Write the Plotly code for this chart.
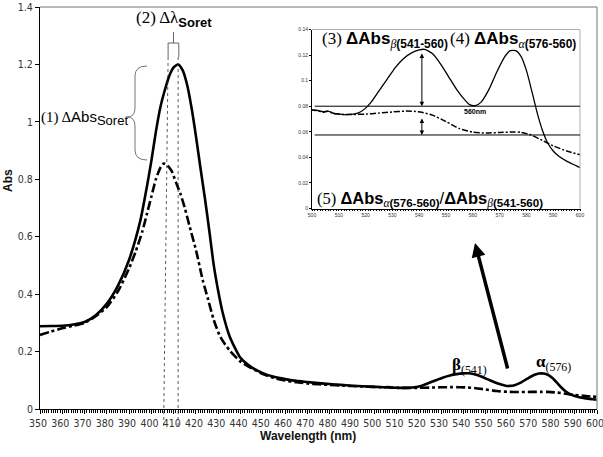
import plotly.graph_objects as go

# ---------------- data ----------------
wl_solid = [350, 355, 360, 365, 370, 375, 380, 385, 390, 395, 398, 400, 402, 404, 406, 408, 410, 412,
            414, 416, 418, 420, 422, 424, 426, 428, 430, 432, 435, 438, 440, 445, 450, 455, 460, 465,
            470, 475, 480, 485, 490, 495, 500, 502, 504, 506, 508, 510, 512, 514, 516, 518, 520, 522,
            525, 528, 531, 534, 537, 540, 542, 545, 548, 551, 554, 557, 559, 561, 563, 566, 569, 572,
            574, 576, 578, 580, 582, 584, 586, 588, 590, 592, 595, 598, 600]
abs_solid = [0.288, 0.289, 0.290, 0.294, 0.303, 0.326, 0.367, 0.43, 0.52, 0.655, 0.775, 0.865, 0.965,
             1.05, 1.11, 1.16, 1.19, 1.20, 1.18, 1.13, 1.05, 0.95, 0.84, 0.735, 0.62, 0.50, 0.41, 0.335,
             0.255, 0.205, 0.178, 0.145, 0.125, 0.112, 0.104, 0.098, 0.094, 0.090, 0.087, 0.084, 0.081,
             0.079, 0.077, 0.0768, 0.0757, 0.0762, 0.0745, 0.0738, 0.0734, 0.0736, 0.0740, 0.0755,
             0.0785, 0.083, 0.092, 0.101, 0.110, 0.117, 0.1215, 0.124, 0.1245, 0.121, 0.113, 0.103,
             0.093, 0.085, 0.081, 0.0805, 0.083, 0.093, 0.107, 0.119, 0.1235, 0.1235, 0.119, 0.108,
             0.092, 0.075, 0.061, 0.051, 0.045, 0.041, 0.037, 0.034, 0.032]

wl_dash = [350, 355, 360, 365, 370, 375, 380, 385, 390, 393, 396, 398, 400, 402, 404, 405.5, 407, 409,
           411, 413, 415, 417, 420, 423, 425.5, 428, 431, 435, 440, 444, 450, 455, 460, 465, 470, 475,
           480, 485, 490, 495, 500, 502, 504, 506, 508, 510, 512, 515, 520, 525, 530, 535, 538, 541,
           545, 550, 555, 560, 565, 570, 575, 578, 582, 586, 590, 595, 600]
abs_dash = [0.258, 0.270, 0.281, 0.290, 0.300, 0.323, 0.355, 0.41, 0.49, 0.55, 0.62, 0.68, 0.74, 0.80,
            0.84, 0.855, 0.85, 0.83, 0.79, 0.75, 0.70, 0.64, 0.554, 0.45, 0.38, 0.31, 0.25, 0.205,
            0.165, 0.146, 0.122, 0.108, 0.099, 0.093, 0.089, 0.086, 0.084, 0.082, 0.080, 0.0785,
            0.077, 0.0766, 0.0752, 0.0760, 0.0744, 0.0740, 0.0735, 0.0735, 0.0738, 0.0746, 0.0755,
            0.0762, 0.0760, 0.0752, 0.0730, 0.068, 0.0625, 0.0597, 0.0590, 0.0595, 0.0598, 0.0596,
            0.0572, 0.0532, 0.0490, 0.0450, 0.0420]

soret_peak_solid = 412
soret_peak_dash = 405.5
beta_wl, alpha_wl, ref_wl = 541, 576, 560
ref_level_solid = 0.08
ref_level_dash = 0.0575
beta_solid = 0.1225
beta_dash = 0.0715

main_xticks = list(range(350, 601, 10))
main_yticks = [0, 0.2, 0.4, 0.6, 0.8, 1.0, 1.2, 1.4]
inset_xticks = list(range(500, 601, 10))
inset_yticks = [0, 0.02, 0.04, 0.06, 0.08, 0.1, 0.12, 0.14]

# ---------------- layout helpers (page pixel -> paper) ----------------
W, H = 603, 457
L, R, T, B = 40, 6, 7, 48   # plot area: x 40..597, y 7..409
PW, PH = W - L - R, H - T - B


def px(x):
    return (x - L) / PW


def py(y):
    return (H - B - y) / PH


SANS = "Liberation Sans, Arial, sans-serif"
NARROW = "Liberation Sans Narrow, Arial Narrow, DejaVu Sans Condensed, sans-serif"
SERIF = "Liberation Serif, Times New Roman, serif"

fig = go.Figure()

fig.add_trace(go.Scatter(x=wl_solid, y=abs_solid, mode="lines",
                         line=dict(color="black", width=2.6, shape="spline", smoothing=0.6),
                         showlegend=False, xaxis="x", yaxis="y"))
fig.add_trace(go.Scatter(x=wl_dash, y=abs_dash, mode="lines",
                         line=dict(color="black", width=2.6, dash="9px,3px,3px,3px", shape="spline", smoothing=0.6),
                         showlegend=False, xaxis="x", yaxis="y"))

# inset (same data, zoomed)
fig.add_trace(go.Scatter(x=wl_solid, y=abs_solid, mode="lines",
                         line=dict(color="black", width=1.3, shape="spline", smoothing=0.6),
                         showlegend=False, xaxis="x2", yaxis="y2"))
fig.add_trace(go.Scatter(x=wl_dash, y=abs_dash, mode="lines",
                         line=dict(color="black", width=1.5, dash="6px,2px,2px,2px", shape="spline", smoothing=0.6),
                         showlegend=False, xaxis="x2", yaxis="y2"))

ix0, ix1 = px(312), px(580)
iy0, iy1 = py(208.5), py(29.5)

tick_font = dict(size=10.5, family=NARROW, color="#333")

fig.update_layout(
    width=W, height=H,
    margin=dict(l=L, r=R, t=T, b=B, autoexpand=False),
    paper_bgcolor="white", plot_bgcolor="white",
    font=dict(family=SANS, size=10, color="#333"),
    xaxis=dict(range=[350, 600], tickvals=main_xticks, showgrid=False, zeroline=False, automargin=False,
               showline=True, linecolor="black", linewidth=1, ticks="outside", ticklen=4,
               ticklabeloverflow="allow", ticklabelshift=-2,
               tickcolor="black", tickwidth=0.8, tickfont=tick_font,
               minor=dict(dtick=1, ticks="outside", ticklen=3, tickcolor="black", tickwidth=0.5)),
    yaxis=dict(range=[0, 1.4], tickvals=main_yticks, showgrid=False, zeroline=False, automargin=False,
               showline=True, linecolor="black", linewidth=1, ticks="outside", ticklen=4,
               ticklabeloverflow="allow",
               tickcolor="black", tickwidth=0.8, tickfont=tick_font),
    xaxis2=dict(domain=[ix0, ix1], anchor="y2", range=[500, 600], tickvals=inset_xticks, automargin=False,
                showgrid=False, zeroline=False, showline=True, linecolor="black", linewidth=0.8,
                ticks="outside", ticklen=2, tickwidth=0.5, tickcolor="black",
                tickfont=dict(size=5, family=SANS, color="#333"),
                minor=dict(dtick=1, ticks="outside", ticklen=1.5, tickcolor="black", tickwidth=0.4)),
    yaxis2=dict(domain=[iy0, iy1], anchor="x2", range=[0, 0.14], tickvals=inset_yticks, automargin=False,
                showgrid=False, zeroline=False, showline=True, linecolor="black", linewidth=0.8,
                ticks="outside", ticklen=2, tickwidth=0.5, tickcolor="black",
                tickfont=dict(size=5, family=SANS, color="#333")),
)

shapes = []
# main plot gray top/right frame
shapes.append(dict(type="line", xref="paper", yref="paper", x0=0, x1=1, y0=1, y1=1,
                   line=dict(color="#a0a0a0", width=1.5)))
shapes.append(dict(type="line", xref="paper", yref="paper", x0=1, x1=1, y0=0, y1=1,
                   line=dict(color="#a0a0a0", width=1.5)))
# inset gray top/right frame
shapes.append(dict(type="line", xref="paper", yref="paper", x0=ix0, x1=ix1, y0=iy1, y1=iy1,
                   line=dict(color="#b0b0b0", width=1)))
shapes.append(dict(type="line", xref="paper", yref="paper", x0=ix1, x1=ix1, y0=iy0, y1=iy1,
                   line=dict(color="#b0b0b0", width=1)))

# dotted vertical guide lines at the two Soret maxima
shapes.append(dict(type="line", xref="x", yref="paper", x0=soret_peak_dash + 2.0, x1=soret_peak_dash,
                   y0=py(57), y1=py(426), line=dict(color="#333", width=0.8, dash="dot")))
shapes.append(dict(type="line", xref="x", yref="paper", x0=soret_peak_solid, x1=soret_peak_solid,
                   y0=py(57), y1=py(426), line=dict(color="#333", width=0.8, dash="dot")))

# small bracket for delta lambda
bl, br = soret_peak_dash + 2.0, soret_peak_solid + 0.3
bx = lambda w: (w - 350) / 250
bm = (bx(bl) + bx(br)) / 2
shapes.append(dict(type="path", xref="paper", yref="paper",
                   path=f"M{bx(bl)},{py(57)} L{bx(bl)},{py(43)} L{bx(br)},{py(43)} L{bx(br)},{py(57)} "
                        f"M{bm},{py(43)} L{bm},{py(32)}",
                   line=dict(color="#555", width=0.9)))


# curly brace for delta Abs Soret
def P(x, y):
    return f"{px(x)},{py(y)}"


brace = (f"M{P(147, 66)} Q{P(135, 66)} {P(135, 76)} L{P(135, 108)} Q{P(135, 117)} {P(127, 117)} "
         f"Q{P(135, 117)} {P(135, 126)} L{P(135, 150)} Q{P(135, 160)} {P(147, 160)}")
shapes.append(dict(type="path", xref="paper", yref="paper", path=brace,
                   line=dict(color="#666", width=0.9)))

# inset reference lines
for lvl in (ref_level_solid, ref_level_dash):
    shapes.append(dict(type="line", xref="x2", yref="y2", x0=501, x1=600, y0=lvl, y1=lvl,
                       line=dict(color="black", width=1)))

fig.update_layout(shapes=shapes)

ann = []
# axis titles
ann.append(dict(text="<b>Abs</b>", xref="paper", yref="paper", x=px(8), y=py(181), showarrow=False,
                textangle=-90, font=dict(family=SANS, size=12, color="#111"), xanchor="center", yanchor="middle"))
ann.append(dict(text="<b>Wavelength (nm)</b>", xref="paper", yref="paper", x=px(308), y=py(436),
                showarrow=False, font=dict(family=SANS, size=12, color="#111"), xanchor="center", yanchor="middle"))


def sans(s, extra=""):
    return f"<span style='font-family:{SANS}{extra}'>{s}</span>"


ann.append(dict(text="(2) Δλ<sub>" + sans("<b>Soret</b>", ";font-size:13px") + "</sub>",
                xref="paper", yref="paper", x=px(173.5), y=py(19), showarrow=False,
                font=dict(family=SERIF, size=17, color="black"), xanchor="center", yanchor="middle"))
ann.append(dict(text="(1) Δ" + sans("Abs") + "<sub>" + sans("Soret", ";font-size:13px") + "</sub>",
                xref="paper", yref="paper", x=px(39), y=py(118), showarrow=False,
                font=dict(family=SERIF, size=15, color="black"), xanchor="left", yanchor="middle"))

beta_sub = "<i>β</i>" + sans("<b>(541-560)</b>")
alpha_sub = "<i>α</i>" + sans("<b>(576-560)</b>")
dabs = sans("<b>ΔAbs</b>")
ann.append(dict(text="(3) " + dabs + "<sub>" + beta_sub + "</sub>", xref="paper", yref="paper",
                x=px(320), y=py(40), showarrow=False, font=dict(family=SERIF, size=17, color="black"),
                xanchor="left", yanchor="middle"))
ann.append(dict(text="(4) " + dabs + "<sub>" + alpha_sub + "</sub>", xref="paper", yref="paper",
                x=px(448), y=py(40), showarrow=False, font=dict(family=SERIF, size=17, color="black"),
                xanchor="left", yanchor="middle"))
ann.append(dict(text="(5) " + dabs + "<sub>" + alpha_sub + "</sub>" + sans("/") + dabs + "<sub>" + beta_sub + "</sub>",
                xref="paper", yref="paper", x=px(315), y=py(199), showarrow=False,
                font=dict(family=SERIF, size=16.5, color="black"), xanchor="left", yanchor="middle"))
ann.append(dict(text="<b>560nm</b>", xref="x2", yref="y2", x=ref_wl + 1, y=ref_level_solid - 0.0045,
                showarrow=False, font=dict(family=SANS, size=7, color="black")))

# inset double-headed arrows
ann.append(dict(text="", xref="x2", yref="y2", axref="x2", ayref="y2", x=beta_wl, y=ref_level_solid,
                ax=beta_wl, ay=beta_solid, showarrow=True, arrowside="end+start", arrowhead=2,
                startarrowhead=2, arrowsize=0.9, startarrowsize=0.9, arrowwidth=1, arrowcolor="black"))
ann.append(dict(text="", xref="x2", yref="y2", axref="x2", ayref="y2", x=beta_wl, y=ref_level_dash,
                ax=beta_wl, ay=beta_dash, showarrow=True, arrowside="end+start", arrowhead=2,
                startarrowhead=2, arrowsize=0.9, startarrowsize=0.9, arrowwidth=1, arrowcolor="black"))

# band labels
ann.append(dict(text="<b>β</b><sub>(541)</sub>", xref="paper", yref="paper", x=px(450), y=py(366),
                showarrow=False, font=dict(family=SERIF, size=17, color="black"), xanchor="left", yanchor="middle"))
ann.append(dict(text="<b>α</b><sub>(576)</sub>", xref="paper", yref="paper", x=px(534), y=py(363),
                showarrow=False, font=dict(family=SERIF, size=17, color="black"), xanchor="left", yanchor="middle"))

# big arrow pointing to inset
ann.append(dict(text="", xref="paper", yref="paper", x=px(475), y=py(243), ax=33, ay=127,
                showarrow=True, arrowhead=2, arrowsize=0.8, arrowwidth=3.5, arrowcolor="black", standoff=0))

fig.update_layout(annotations=ann)

# remove the default 8px page margin so the figure fills the window exactly
fig.write_html("out.html", config={"displayModeBar": False},
               post_script="document.body.style.margin='0px';")
